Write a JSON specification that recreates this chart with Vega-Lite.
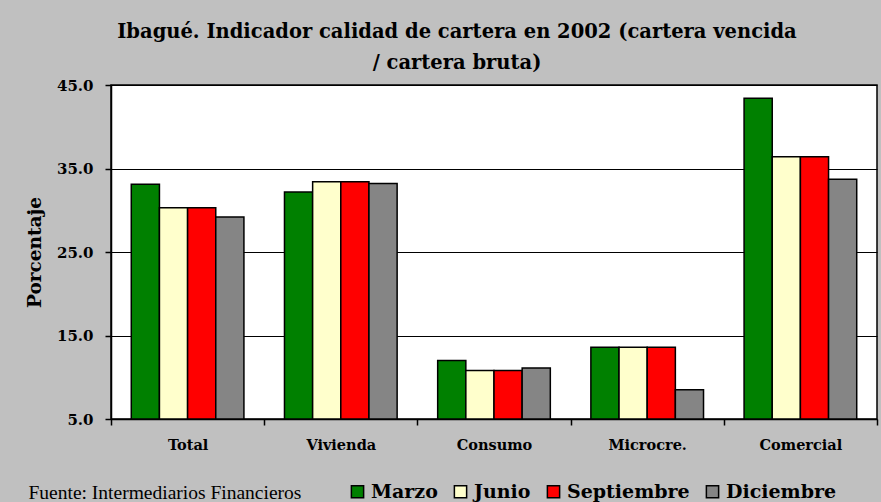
{
  "$schema": "https://vega.github.io/schema/vega-lite/v6.json",
  "autosize": {"type": "none"},
  "width": 766,
  "height": 334,
  "padding": {"left": 111, "top": 85, "right": 4, "bottom": 83},
  "background": "#c0c0c0",
  "title": {
    "text": ["Ibagué. Indicador calidad de cartera en 2002 (cartera vencida", "/ cartera bruta)"],
    "font": "DejaVu Serif",
    "fontSize": 19.5,
    "fontWeight": "bold",
    "color": "black",
    "anchor": "middle",
    "frame": "group",
    "dx": -37,
    "offset": 5,
    "lineHeight": 31
  },
  "data": {
    "values": [
      {"cat": "Total", "mes": "Marzo", "v": 33.1},
      {"cat": "Total", "mes": "Junio", "v": 30.3},
      {"cat": "Total", "mes": "Septiembre", "v": 30.3},
      {"cat": "Total", "mes": "Diciembre", "v": 29.2},
      {"cat": "Vivienda", "mes": "Marzo", "v": 32.2},
      {"cat": "Vivienda", "mes": "Junio", "v": 33.4},
      {"cat": "Vivienda", "mes": "Septiembre", "v": 33.4},
      {"cat": "Vivienda", "mes": "Diciembre", "v": 33.2},
      {"cat": "Consumo", "mes": "Marzo", "v": 12.0},
      {"cat": "Consumo", "mes": "Junio", "v": 10.8},
      {"cat": "Consumo", "mes": "Septiembre", "v": 10.8},
      {"cat": "Consumo", "mes": "Diciembre", "v": 11.1},
      {"cat": "Microcre.", "mes": "Marzo", "v": 13.6},
      {"cat": "Microcre.", "mes": "Junio", "v": 13.6},
      {"cat": "Microcre.", "mes": "Septiembre", "v": 13.6},
      {"cat": "Microcre.", "mes": "Diciembre", "v": 8.5},
      {"cat": "Comercial", "mes": "Marzo", "v": 43.4},
      {"cat": "Comercial", "mes": "Junio", "v": 36.4},
      {"cat": "Comercial", "mes": "Septiembre", "v": 36.4},
      {"cat": "Comercial", "mes": "Diciembre", "v": 33.7}
    ]
  },
  "mark": {"type": "bar", "stroke": "black", "strokeWidth": 1.5},
  "encoding": {
    "x": {
      "field": "cat",
      "type": "nominal",
      "sort": ["Total", "Vivienda", "Consumo", "Microcre.", "Comercial"],
      "scale": {"paddingInner": 0, "paddingOuter": 0},
      "axis": {
        "title": "Fuente: Intermediarios Financieros",
        "titleFont": "Liberation Serif",
        "titleFontSize": 19.5,
        "titleFontWeight": "normal",
        "titleColor": "black",
        "titleAnchor": "start",
        "titleAlign": "left",
        "titleBaseline": "alphabetic",
        "titleX": -83,
        "titleY": 79,
        "labelAngle": 0,
        "labelFont": "DejaVu Serif",
        "labelFontSize": 14.5,
        "labelFontWeight": "bold",
        "labelColor": "black",
        "labelPadding": 13,
        "tickBand": "extent",
        "tickSize": 6,
        "tickColor": "black",
        "tickWidth": 1.5,
        "domainColor": "black",
        "domainWidth": 1.5
      }
    },
    "xOffset": {
      "field": "mes",
      "type": "nominal",
      "sort": ["Marzo", "Junio", "Septiembre", "Diciembre"],
      "scale": {"paddingInner": 0, "paddingOuter": 0.72}
    },
    "y": {
      "field": "v",
      "type": "quantitative",
      "scale": {"domain": [5, 45], "zero": false, "nice": false},
      "axis": {
        "title": "Porcentaje",
        "titleFont": "DejaVu Serif",
        "titleFontSize": 18.5,
        "titleFontWeight": "bold",
        "titleColor": "black",
        "titlePadding": 12,
        "values": [5, 15, 25, 35, 45],
        "format": ".1f",
        "labelFont": "DejaVu Serif",
        "labelFontSize": 15,
        "labelFontWeight": "bold",
        "labelColor": "black",
        "labelPadding": 12,
        "tickSize": 6,
        "tickColor": "black",
        "tickWidth": 1.5,
        "domainColor": "black",
        "domainWidth": 1.5,
        "grid": true,
        "gridColor": "black",
        "gridWidth": 1.2,
        "gridOpacity": 1
      }
    },
    "y2": {"datum": 5},
    "color": {
      "field": "mes",
      "type": "nominal",
      "sort": ["Marzo", "Junio", "Septiembre", "Diciembre"],
      "scale": {
        "domain": ["Marzo", "Junio", "Septiembre", "Diciembre"],
        "range": ["#008000", "#FFFFCC", "#FF0000", "#858585"]
      },
      "legend": {
        "title": null,
        "orient": "none",
        "direction": "horizontal",
        "legendX": 237,
        "legendY": 397,
        "symbolType": "square",
        "symbolSize": 150,
        "symbolStrokeColor": "black",
        "symbolStrokeWidth": 1.5,
        "symbolOpacity": 1,
        "labelFont": "DejaVu Serif",
        "labelFontSize": 19,
        "labelFontWeight": "bold",
        "labelColor": "black",
        "labelOffset": 4,
        "columnPadding": 13,
        "labelLimit": 300
      }
    }
  },
  "config": {
    "view": {"fill": "white", "stroke": "black", "strokeWidth": 1.5}
  }
}
